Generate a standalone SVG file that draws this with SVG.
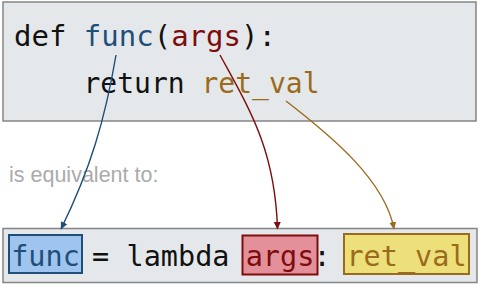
<svg xmlns="http://www.w3.org/2000/svg" width="480" height="286" viewBox="0 0 480 286">
  <style>
    .code { font-family: "DejaVu Sans Mono", "Liberation Mono", monospace; font-size: 29px; fill: #111; }
    .panel { fill: #e5e8eb; stroke: #858585; stroke-width: 1.5; }
    .note { font-family: "Liberation Sans", Arial, sans-serif; font-size: 21.5px; fill: #ababab; }
    .link { fill: none; stroke-width: 1.4; }
    .blue { fill: #1f4e79; }
    .red { fill: #7d0c0c; }
    .gold { fill: #9a6b1c; }
  </style>
  <defs>
    <marker id="head-blue" markerWidth="8" markerHeight="8" refX="7" refY="4" orient="auto" markerUnits="userSpaceOnUse">
      <path d="M0,0.5 L7.5,4 L0,7.5 Z" fill="#1f4e79"/>
    </marker>
    <marker id="head-red" markerWidth="8" markerHeight="8" refX="7" refY="4" orient="auto" markerUnits="userSpaceOnUse">
      <path d="M0,0.5 L7.5,4 L0,7.5 Z" fill="#7d0c0c"/>
    </marker>
    <marker id="head-gold" markerWidth="8" markerHeight="8" refX="7" refY="4" orient="auto" markerUnits="userSpaceOnUse">
      <path d="M0,0.5 L7.5,4 L0,7.5 Z" fill="#9a6b1c"/>
    </marker>
  </defs>

  <!-- function definition -->
  <g id="definition">
    <rect class="panel" x="3" y="2" width="473" height="119"/>
    <text class="code" x="14" y="46" xml:space="preserve">def <tspan class="blue">func</tspan>(<tspan class="red">args</tspan>):</text>
    <text class="code" x="83.5" y="93" style="font-size:28px" xml:space="preserve">return <tspan class="gold">ret_val</tspan></text>
  </g>

  <text id="caption" class="note" x="9" y="181.5">is equivalent to:</text>

  <!-- lambda form -->
  <g id="lambda">
    <rect class="panel" x="3" y="228.5" width="474" height="54"/>
    <g id="lambda-func">
      <rect x="9" y="235" width="73" height="38" fill="#9fc5ee" stroke="#1f4e79" stroke-width="2"/>
      <text class="code blue" x="45.5" y="266" text-anchor="middle" style="font-size:28.5px">func</text>
    </g>
    <text class="code" x="100.5" y="266" text-anchor="middle" style="font-size:28.5px">=</text>
    <text class="code" x="178" y="266" text-anchor="middle" style="font-size:28.5px">lambda</text>
    <g id="lambda-args">
      <rect x="242.5" y="235.5" width="75" height="39" fill="#e3909a" stroke="#7d0c0c" stroke-width="2"/>
      <text class="code red" x="280" y="266" text-anchor="middle" style="font-size:28.5px">args</text>
    </g>
    <text class="code" x="322" y="266" text-anchor="middle" style="font-size:28.5px">:</text>
    <g id="lambda-ret">
      <rect x="344" y="234" width="125" height="40" fill="#ede07a" stroke="#9a6b1c" stroke-width="2"/>
      <text class="code gold" x="406.5" y="266" text-anchor="middle" style="font-size:28.5px">ret_val</text>
    </g>
  </g>

  <!-- connectors -->
  <g id="connectors">
    <path class="link" stroke="#1f4e79" d="M116,55 C105,120 90,170 61,229" marker-end="url(#head-blue)"/>
    <path class="link" stroke="#7d0c0c" d="M220,55 C250,110 275,150 277.5,229" marker-end="url(#head-red)"/>
    <path class="link" stroke="#9a6b1c" d="M286,101 C330,135 385,180 394,229" marker-end="url(#head-gold)"/>
  </g>
</svg>
